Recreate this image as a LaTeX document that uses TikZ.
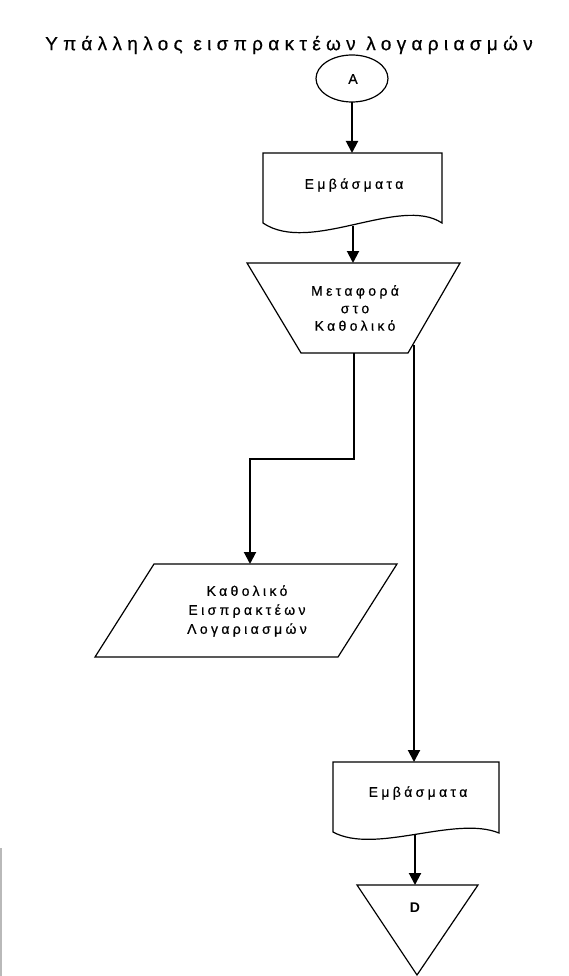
\documentclass[tikz,border=0pt]{standalone}
\usepackage{fontspec}
\setmainfont{Liberation Sans}
\usetikzlibrary{arrows.meta}
\begin{document}
\begin{tikzpicture}[x=1pt,y=-1pt,
  outline/.style={line width=1.2pt, line join=miter},
  flow/.style={line width=2pt, -{Triangle[width=12pt,length=12pt]}},
  lbl/.style={font=\fontsize{14}{17.5}\selectfont\addfontfeature{LetterSpace=24,FakeBold=0.6}, align=center, inner sep=0pt},
  ttl/.style={font=\fontsize{19}{22}\selectfont\addfontfeature{LetterSpace=28,FakeBold=0.6}, inner sep=0pt}]
\useasboundingbox (0,0) rectangle (569,976);

% title
\node[ttl] (title) at (289,45) {Υπάλληλος εισπρακτέων λογαριασμών};

% connector A
\draw[outline] (352,78.5) ellipse [x radius=36, y radius=23.5];
\node[lbl] (A) at (353,79) {A};
\coordinate (Abot) at (352,102);

% first document: Εμβάσματα
\draw[outline] (263,153) -- (442,153) -- (442,223)
  .. controls (400,195) and (310,255) .. (263,223) -- cycle;
\node[lbl] (doc1) at (354,185) {Εμβάσματα};
\coordinate (doc1top) at (352,153);
\coordinate (doc1bot) at (353,226);

% manual operation: transfer to the ledger
\draw[outline] (247,263) -- (460,263) -- (408,353) -- (301,353) -- cycle;
\node[lbl] (post) at (355,308) {Μεταφορά\\στο\\Καθολικό};
\coordinate (posttop) at (353,263);
\coordinate (postbot) at (354,353);
\coordinate (postright) at (414,345);

% ledger (parallelogram)
\draw[outline] (154,564) -- (397,564) -- (338,657) -- (95,657) -- cycle;
\node[lbl, font=\fontsize{14}{19}\selectfont\addfontfeature{LetterSpace=24,FakeBold=0.6}] (ledger) at (247,611)
  {Καθολικό\\Εισπρακτέων\\Λογαριασμών};
\coordinate (ledgertop) at (250,564);
\coordinate (elbow) at (354,459);

% second document: Εμβάσματα
\draw[outline] (333,762) -- (499,762) -- (499,833)
  .. controls (455,815) and (375,855) .. (333,832) -- cycle;
\node[lbl] (doc2) at (418,793) {Εμβάσματα};
\coordinate (doc2top) at (414,762);
\coordinate (doc2bot) at (415,835);

% off-line storage D
\draw[outline] (357,885) -- (478,885) -- (417,975) -- cycle;
\node[lbl, font=\fontsize{14}{15}\selectfont\bfseries] (D) at (415,908) {D};
\coordinate (Dtop) at (415,885);

% connectors
\draw[flow] (Abot) -- (doc1top);
\draw[flow] (doc1bot) -- (posttop);
\draw[flow] (postbot) -- (elbow) -| (ledgertop);
\draw[flow] (postright) -- (doc2top);
\draw[flow] (doc2bot) -- (Dtop);

% page edge
\draw[gray!55, line width=1.5pt] (1,848) -- (1,976);
\end{tikzpicture}
\end{document}
